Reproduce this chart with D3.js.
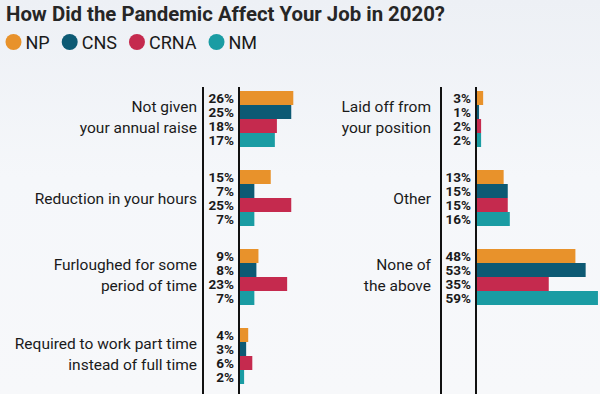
<!DOCTYPE html>
<html>
<head>
<meta charset="utf-8">
<script src="https://cdn.jsdelivr.net/npm/d3@7.9.0/dist/d3.min.js"></script>
<style>
  html, body { margin: 0; padding: 0; }
  body { width: 600px; height: 394px; overflow: hidden; font-family: Roboto, "Noto Sans", sans-serif; }
</style>
</head>
<body>
<svg id="chart" width="600" height="394"></svg>
<script>
// data
const series = ['NP', 'CNS', 'CRNA', 'NM'];
const colors = ['#e8922b', '#0d5a74', '#c52a4e', '#1a9ca3'];

const leftLabels = [
  ['Not given', 'your annual raise'],
  ['Reduction in your hours'],
  ['Furloughed for some', 'period of time'],
  ['Required to work part time', 'instead of full time']
];
const rightLabels = [
  ['Laid off from', 'your position'],
  ['Other'],
  ['None of', 'the above']
];

// values per series, left panel then right panel
const npLeft   = [26, 15, 9, 4];
const cnsLeft  = [25, 7, 8, 3];
const crnaLeft = [18, 25, 23, 6];
const nmLeft   = [17, 7, 7, 2];

const npRight   = [3, 13, 48];
const cnsRight  = [1, 15, 53];
const crnaRight = [2, 15, 35];
const nmRight   = [2, 16, 59];

const leftValues  = [npLeft, cnsLeft, crnaLeft, nmLeft];
const rightValues = [npRight, cnsRight, crnaRight, nmRight];

const svg = d3.select('#chart');

// background
const defs = svg.append('defs');
const grad = defs.append('linearGradient')
  .attr('id', 'bg').attr('x1', 0).attr('y1', 0).attr('x2', 0).attr('y2', 1);
grad.append('stop').attr('offset', '0%').attr('stop-color', '#edf0f5');
grad.append('stop').attr('offset', '45%').attr('stop-color', '#f5f7fa');
grad.append('stop').attr('offset', '100%').attr('stop-color', '#f7f8fa');
svg.append('rect').attr('width', 600).attr('height', 394).attr('fill', 'url(#bg)');

// title
svg.append('text')
  .attr('x', 6).attr('y', 21)
  .attr('font-size', 20).attr('font-weight', 700)
  .attr('fill', '#262626')
  .attr('textLength', 439).attr('lengthAdjust', 'spacingAndGlyphs')
  .text('How Did the Pandemic Affect Your Job in 2020?');

// legend
let lx = 13.5;
series.forEach((s, i) => {
  const g = svg.append('g');
  g.append('circle').attr('cx', lx).attr('cy', 42).attr('r', 8).attr('fill', colors[i]);
  const t = g.append('text')
    .attr('x', lx + 12).attr('y', 48.5)
    .attr('font-size', 18).attr('fill', '#1a1a1a')
    .text(s);
  lx = lx + 12 + t.node().getComputedTextLength() + 20;
});

// shared scales
const y = d3.scaleBand()
  .domain(d3.range(4))
  .range([79.5, 79.5 + 4 * 79])
  .paddingInner(23 / 79)
  .paddingOuter(23 / 79 / 2);

const ySub = d3.scaleBand()
  .domain(d3.range(series.length))
  .range([0, y.bandwidth()])
  .padding(0);

const x = d3.scaleLinear().domain([0, 60]).range([0, 123]);

function panel(labels, values, opts) {
  const g = svg.append('g');

  // divider lines
  [opts.line1, opts.axis].forEach(lxp => {
    g.append('line')
      .attr('x1', lxp).attr('x2', lxp)
      .attr('y1', 87).attr('y2', 394)
      .attr('stroke', '#111').attr('stroke-width', 2);
  });

  labels.forEach((lines, ci) => {
    const cy = y(ci) + y.bandwidth() / 2;
    const lh = 21;
    const first = cy + 6 - (lines.length - 1) * (lh / 2 + 3);
    const t = g.append('text')
      .attr('text-anchor', 'end')
      .attr('font-size', 15.5).attr('fill', '#1a1a1a');
    lines.forEach((ln, li) => {
      t.append('tspan')
        .attr('x', opts.labelRight)
        .attr('y', first + li * lh)
        .text(ln);
    });

    const rows = series.map((s, si) => ({ si, v: values[si][ci] }));

    g.selectAll(null)
      .data(rows)
      .join('rect')
        .attr('x', opts.axis + 1)
        .attr('y', d => y(ci) + ySub(d.si))
        .attr('width', d => x(d.v))
        .attr('height', ySub.bandwidth())
        .attr('fill', d => colors[d.si]);

    g.selectAll(null)
      .data(rows)
      .join('text')
        .attr('x', opts.axis - 5)
        .attr('y', d => y(ci) + ySub(d.si) + ySub.bandwidth() / 2 + 5)
        .attr('text-anchor', 'end')
        .attr('font-size', 13.5).attr('font-weight', 700)
        .attr('fill', '#1a1a1a')
        .text(d => d.v + '%');
  });
}

panel(leftLabels, leftValues, { line1: 203, axis: 239, labelRight: 197 });
panel(rightLabels, rightValues, { line1: 441, axis: 476, labelRight: 431 });
</script>
</body>
</html>
